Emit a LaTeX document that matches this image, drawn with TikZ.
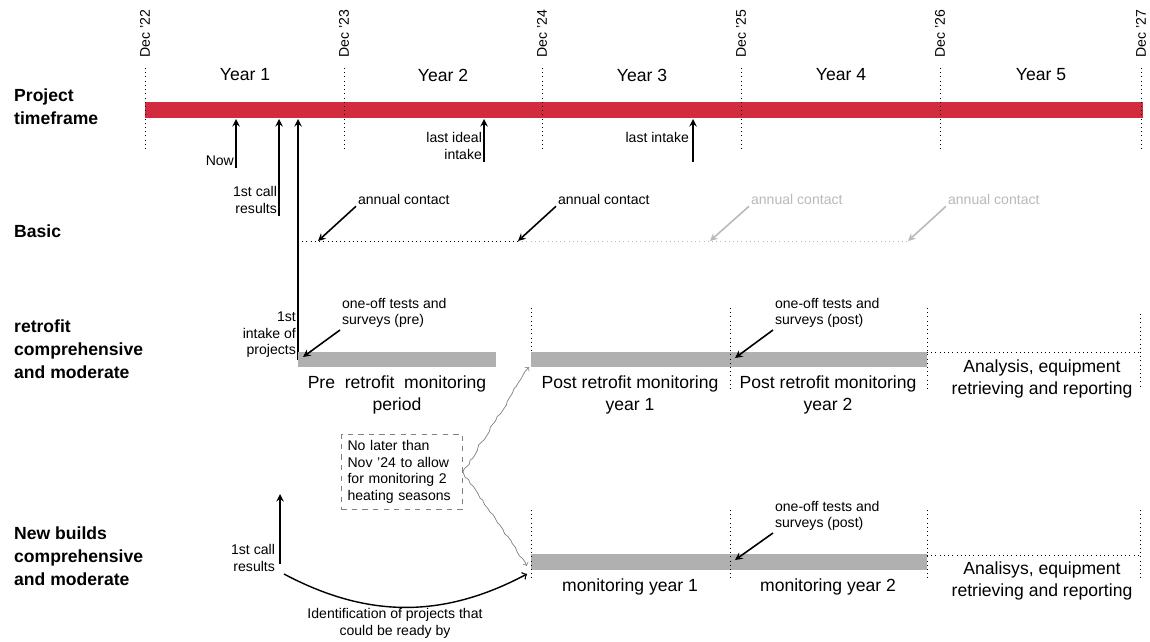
\documentclass[tikz,border=0pt]{standalone}
\usepackage{fontspec}
\setmainfont{Liberation Sans}
\usetikzlibrary{positioning,decorations.pathmorphing}
\definecolor{framered}{RGB}{210,43,63}
\definecolor{monigray}{RGB}{176,176,176}
\definecolor{fadegray}{RGB}{185,185,185}
\tikzset{
	rowlbl/.style={anchor=west,align=left,font=\fontsize{10}{13}\selectfont\bfseries},
	biglbl/.style={align=center,font=\fontsize{10}{12.5}\selectfont,inner sep=1pt},
	smalllbl/.style={align=right,font=\fontsize{8}{9.6}\selectfont,inner sep=1pt},
	note/.style={align=left,font=\fontsize{8}{9.4}\selectfont,inner sep=1pt},
	datelbl/.style={rotate=90,anchor=west,font=\fontsize{8}{9}\selectfont,inner sep=0pt},
	marker/.style={dotted,thin},
	arr/.style={line width=0.9pt,-stealth},
	wiggle/.style={gray,thin,->,decorate,decoration={random steps,segment length=2.5pt,amplitude=0.7pt}},
}
\begin{document}
\begin{tikzpicture}[x=0.02cm,y=-0.02cm]
	\useasboundingbox (0,0) rectangle (1150,642);

	%project timeframe
	\fill[framered] (145,102) rectangle (1143,118);
	\foreach \x/\yr in {145/22,344/23,542/24,741/25,940/26,1141/27}{
		\draw[marker] (\x,68) -- (\x,152);
		\node[datelbl] (dec\yr) at (\x,58) {Dec '\yr};
	}
	\node[biglbl] (year1) at (245,75) {Year 1};
	\node[biglbl] (year2) at (443,75) {Year 2};
	\node[biglbl] (year3) at (642,75) {Year 3};
	\node[biglbl] (year4) at (841,75) {Year 4};
	\node[biglbl] (year5) at (1041,75) {Year 5};

	%row titles
	\node[rowlbl] (timeframe) at (8,107) {Project\\timeframe};
	\node[rowlbl] (basic) at (8,231) {Basic};
	\node[rowlbl] (retrofit) at (8,349) {retrofit\\comprehensive\\and moderate};
	\node[rowlbl] (newbuild) at (8,556) {New builds\\comprehensive\\and moderate};

	%milestones
	\coordinate (now) at (236,119);
	\coordinate (nowfoot) at (236,168);
	\draw[arr] (nowfoot) -- (now);
	\node[smalllbl,anchor=south east] (nowlbl) at (nowfoot) {Now};

	\coordinate (call) at (279,119);
	\coordinate (callfoot) at (279,216);
	\draw[arr] (callfoot) -- (call);
	\node[smalllbl,anchor=south east] (calllbl) at (callfoot) {1st call\\results};

	\coordinate (intake) at (298,119);
	\coordinate (intakefoot) at (298,360);
	\draw[arr] (intakefoot) -- (intake);
	\node[smalllbl,anchor=south east] (intakelbl) at (intakefoot) {1st\\intake of\\projects};

	\coordinate (ideal) at (484,119);
	\coordinate (idealfoot) at (484,162);
	\draw[arr] (idealfoot) -- (ideal);
	\node[smalllbl,anchor=south east] (ideallbl) at (idealfoot) {last ideal\\intake};

	\coordinate (last) at (693,119);
	\coordinate (lastfoot) at (693,162);
	\draw[arr] (lastfoot) -- (last);
	\node[smalllbl,anchor=east] (lastlbl) at (691,137) {last intake};

	%basic
	\coordinate (basicstart) at (298,241);
	\coordinate (contact1) at (318,241);
	\coordinate (contact2) at (518,241);
	\coordinate (contact3) at (710,241);
	\coordinate (contact4) at (908,241);
	\draw[marker] (basicstart) -- (contact2);
	\draw[marker,fadegray] (contact2) -- (contact4);
	\node[note,anchor=west] (contactlbl1) at (356,199) {annual contact};
	\node[note,anchor=west] (contactlbl2) at (556,199) {annual contact};
	\node[note,anchor=west,fadegray] (contactlbl3) at (749,199) {annual contact};
	\node[note,anchor=west,fadegray] (contactlbl4) at (946,199) {annual contact};
	\draw[arr] (contactlbl1.south west) -- (contact1);
	\draw[arr] (contactlbl2.south west) -- (contact2);
	\draw[arr,fadegray] (contactlbl3.south west) -- (contact3);
	\draw[arr,fadegray] (contactlbl4.south west) -- (contact4);

	%retrofit
	\fill[monigray] (298,352) rectangle (496,367);
	\fill[monigray] (531,352) rectangle (927,367);
	\draw[marker] (531,308) -- (531,352);
	\draw[marker] (730,308) -- (730,392);
	\draw[marker] (927,308) -- (927,392);
	\draw[marker] (1140,314) -- (1140,386);
	\draw[marker] (927,352) -- (1140,352);
	\node[biglbl] (pre) at (397,395) {Pre\hspace{0.55em}retrofit\hspace{0.55em}monitoring\\period};
	\node[biglbl] (post1) at (630,395) {Post retrofit monitoring\\year 1};
	\node[biglbl] (post2) at (828,395) {Post retrofit monitoring\\year 2};
	\node[biglbl] (analysis1) at (1042,379) {Analysis, equipment\\retrieving and reporting};
	\coordinate (prestart) at (303,357);
	\coordinate (poststart) at (529,367);
	\coordinate (postmid) at (735,358);
	\node[note,anchor=south west] (testpre) at (340,330) {one-off tests and\\surveys (pre)};
	\node[note,anchor=south west] (testpost1) at (773,330) {one-off tests and\\surveys (post)};
	\draw[arr] (testpre.south west) -- (prestart);
	\draw[arr] (testpost1.south west) -- (postmid);

	%deadline note
	\node[draw=gray,dashed,thin,note,text width=62pt,inner sep=3.5pt] (deadline) at (402,472)
	{No later than\\Nov '24 to allow\\for monitoring 2\\heating seasons};
	\coordinate (nbstart) at (527,566);
	\draw[wiggle] (deadline.east) -- (poststart);
	\draw[wiggle] (deadline.east) -- (nbstart);

	%new builds
	\fill[monigray] (531,554) rectangle (927,570);
	\draw[marker] (531,510) -- (531,580);
	\draw[marker] (730,510) -- (730,580);
	\draw[marker] (927,510) -- (927,580);
	\draw[marker] (1140,510) -- (1140,580);
	\draw[marker] (927,555) -- (1140,555);
	\node[biglbl] (nb1) at (630,587) {monitoring year 1};
	\node[biglbl] (nb2) at (828,587) {monitoring year 2};
	\node[biglbl] (analysis2) at (1042,581) {Analisys, equipment\\retrieving and reporting};
	\coordinate (nbmid) at (735,560);
	\node[note,anchor=south west] (testpost2) at (773,533) {one-off tests and\\surveys (post)};
	\draw[arr] (testpost2.south west) -- (nbmid);

	\coordinate (nbcall) at (280,494);
	\coordinate (nbcallfoot) at (280,564);
	\draw[arr] (nbcallfoot) -- (nbcall);
	\node[smalllbl,anchor=south east] (nbcalllbl) at (277,574) {1st call\\results};
	\coordinate (nbpick) at (284,574);
	\coordinate (nbready) at (527,574);
	\draw[thick,->] (nbpick) to[bend right=28] (nbready);
	\node[smalllbl,align=center] (identify) at (395,623) {Identification of projects that\\could be ready by};

\end{tikzpicture}
\end{document}
